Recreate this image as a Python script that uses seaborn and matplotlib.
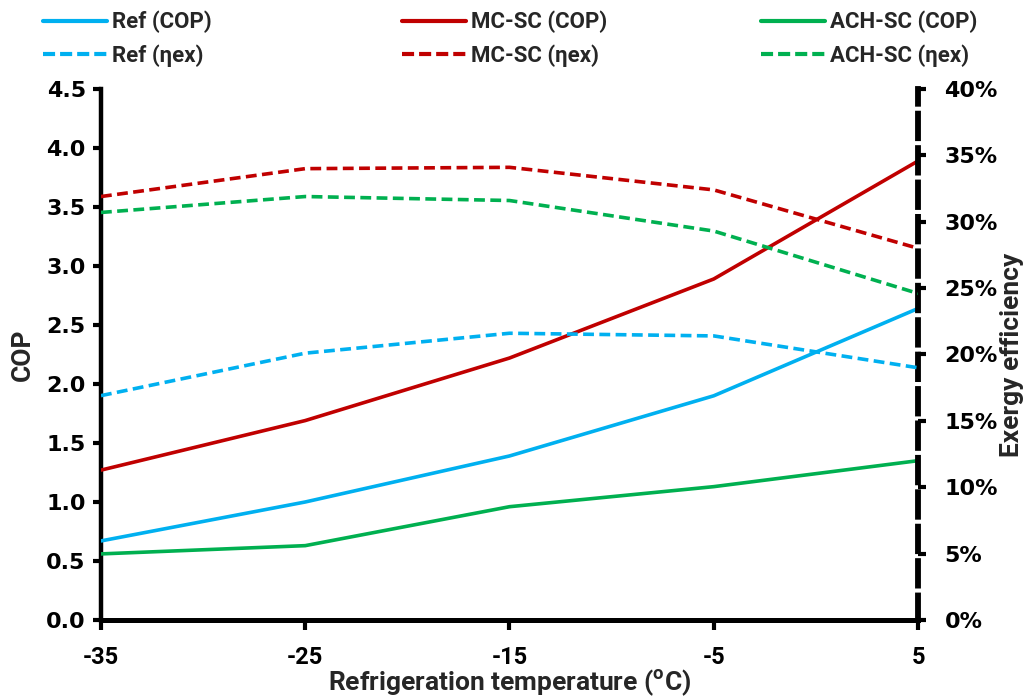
import matplotlib
matplotlib.use("Agg")
import matplotlib.pyplot as plt
from matplotlib.ticker import PercentFormatter, MultipleLocator, FormatStrFormatter
from matplotlib.lines import Line2D
import seaborn as sns
import pandas as pd

# Refrigeration temperature (°C)
temperature = [-35, -25, -15, -5, 5]

# Coefficient of performance
ref_cop = [0.67, 1.00, 1.39, 1.90, 2.64]
mcsc_cop = [1.27, 1.69, 2.22, 2.89, 3.89]
achsc_cop = [0.56, 0.63, 0.96, 1.13, 1.35]

# Exergy efficiency (fraction)
ref_ex = [0.169, 0.201, 0.216, 0.214, 0.190]
mcsc_ex = [0.319, 0.340, 0.341, 0.324, 0.280]
achsc_ex = [0.307, 0.319, 0.316, 0.293, 0.246]

series_names = ["Ref", "MC-SC", "ACH-SC"]
colors = ["#00B0F0", "#C00000", "#00B050"]

sns.set_style("white")
plt.rcParams["axes.unicode_minus"] = False
label_font = ["Roboto", "DejaVu Sans"]
tick_font = ["DejaVu Sans"]

fig = plt.figure(figsize=(10.24, 6.97), dpi=100)
ax = fig.add_axes([0.0986, 0.1105, 0.7979, 0.7618])
ax2 = ax.twinx()

cycle_col = sum([[n] * len(temperature) for n in series_names], [])
cop_df = pd.DataFrame({"T": temperature * 3,
                       "COP": ref_cop + mcsc_cop + achsc_cop,
                       "Cycle": cycle_col})
ex_df = pd.DataFrame({"T": temperature * 3,
                      "EX": ref_ex + mcsc_ex + achsc_ex,
                      "Cycle": cycle_col})

palette = dict(zip(series_names, colors))
sns.lineplot(data=cop_df, x="T", y="COP", hue="Cycle", palette=palette, ax=ax,
             linewidth=2.6, legend=False, zorder=3)
sns.lineplot(data=ex_df, x="T", y="EX", hue="Cycle", palette=palette, ax=ax2,
             linewidth=2.6, legend=False, zorder=3)
for ln in ax2.get_lines():
    ln.set_dashes((3, 1.5))
    ln.set_dash_capstyle("butt")

# Axes ranges and ticks
ax.set_xlim(-35, 5)
ax.set_ylim(0, 4.5)
ax2.set_ylim(0, 0.40)
ax.set_xticks(temperature)
ax.yaxis.set_major_locator(MultipleLocator(0.5))
ax.yaxis.set_major_formatter(FormatStrFormatter("%.1f"))
ax2.yaxis.set_major_locator(MultipleLocator(0.05))
ax2.yaxis.set_major_formatter(PercentFormatter(1.0, decimals=0))

for a in (ax, ax2):
    a.spines["top"].set_visible(False)
    a.grid(False)
    a.set_facecolor("none")
    a.set_xlabel("")
    a.set_ylabel("")
ax.spines["right"].set_visible(False)
ax2.spines["left"].set_visible(False)
ax2.spines["bottom"].set_visible(False)
ax.spines["left"].set_linewidth(3.2)
ax.spines["bottom"].set_linewidth(3.6)
ax.spines["left"].set_color("black")
ax.spines["bottom"].set_color("black")
ax2.spines["right"].set_color("black")
ax2.spines["right"].set_linewidth(4.2)
ax2.spines["right"].set_linestyle((0, (4.2, 1.7)))

ax.tick_params(axis="y", direction="out", length=6, width=3, pad=5,
               left=True, labelsize=16, colors="black")
ax.tick_params(axis="x", direction="out", length=7, width=3, pad=12,
               bottom=True, labelsize=16, colors="black")
ax2.tick_params(axis="y", direction="out", length=6, width=3, pad=13,
                right=True, labelsize=16, colors="black")
for lab in ax.get_yticklabels() + ax2.get_yticklabels():
    lab.set_fontweight("bold")
    lab.set_family(tick_font)
for lab in ax.get_xticklabels():
    lab.set_fontweight("bold")
    lab.set_family(label_font)
    lab.set_fontsize(17)

# Axis titles
title_kw = dict(fontsize=19, fontweight="bold", family=label_font)
fig.text(0.498, 0.021, r"Refrigeration temperature ($^{\mathregular{o}}$C)",
         ha="center", va="center", **title_kw)
fig.text(0.022, 0.491, "COP", rotation=90, ha="center", va="center", **title_kw)
fig.text(0.9885, 0.491, "Exergy efficiency", rotation=90, ha="center", va="center",
         **title_kw)

# Legend: one column per cycle, solid COP above dashed exergy efficiency
legend_x = [0.0225, 0.373, 0.7236]
for name, col, lx in zip(series_names, colors, legend_x):
    h1 = Line2D([], [], color=col, lw=3.0)
    h2 = Line2D([], [], color=col, lw=3.0, dashes=(2.9, 1.2))
    fig.legend([h1, h2], [f"{name} (COP)", f"{name} (\u03b7ex)"],
               loc="upper left", bbox_to_anchor=(lx, 1.013), frameon=False,
               handlelength=2.88, handletextpad=0.23, labelspacing=0.5,
               prop={"family": label_font, "weight": "bold", "size": 16})

fig.savefig("out.png", dpi=100)
